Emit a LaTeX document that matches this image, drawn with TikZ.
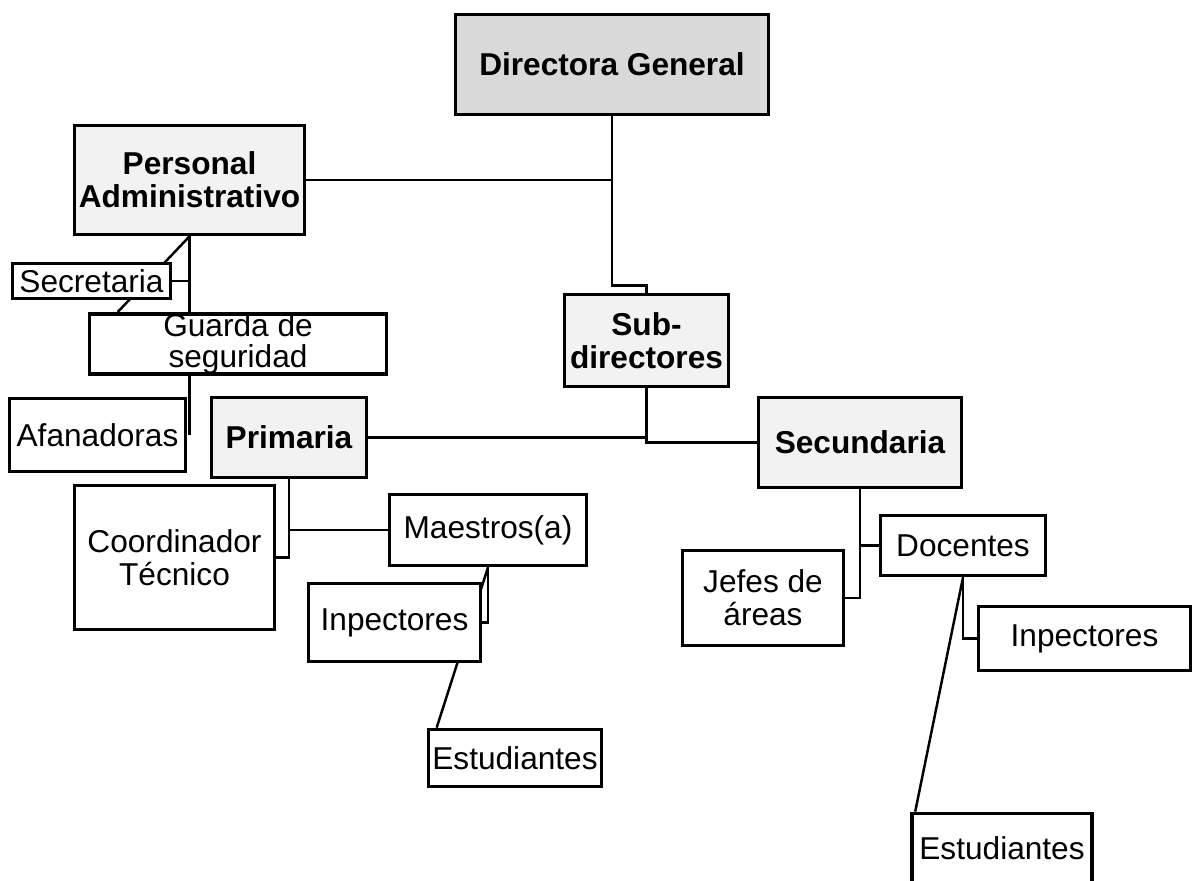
\documentclass[tikz,border=0pt]{standalone}
\usepackage{fontspec}
\setmainfont{Liberation Sans}
\usetikzlibrary{backgrounds,calc}
\colorlet{boxGray}{black!15}
\colorlet{boxLight}{black!5}
\tikzset{
  box/.style={draw, line width=2.1pt, fill=white, inner sep=0pt, align=center,
    font=\fontsize{18}{18.8}\selectfont},
  head/.style={box, fill=boxLight, font=\fontsize{18}{18.8}\selectfont\bfseries},
  conn/.style={line width=1.4pt}
}

\begin{document}
\begin{tikzpicture}[x=0.02cm, y=-0.02cm]
\useasboundingbox (0,0) rectangle (1199,880);
% top
\node[head, fill=boxGray, minimum width=6.26cm, minimum height=2cm] (dg) at (612,64.5) {Directora General};
\node[head, minimum width=4.6cm, minimum height=2.18cm] (pa) at (189.5,180) {Personal\\Administrativo};
\node[head, minimum width=3.28cm, minimum height=1.84cm] (sub) at (646.5,340.5) {Sub-\\directores};
% administrativo
\node[box, minimum width=3.16cm, minimum height=0.7cm] (secr) at (91.5,281) {Secretaria};
\node[box, minimum width=5.94cm, minimum height=1.18cm, font=\fontsize{18}{17.5}\selectfont] (guarda) at (238,344) {Guarda de\\seguridad};
\node[box, minimum width=3.52cm, minimum height=1.46cm] (afa) at (97.5,435) {Afanadoras};
% primaria
\node[head, minimum width=3.1cm, minimum height=1.6cm] (prim) at (289,437.5) {Primaria};
\node[box, minimum width=4cm, minimum height=2.88cm] (coord) at (174.5,557.5) {Coordinador\\Técnico};
\node[box, minimum width=3.94cm, minimum height=1.42cm] (maes) at (488,530) {Maestros(a)};
\node[box, minimum width=3.44cm, minimum height=1.56cm] (insp1) at (394.5,622.5) {Inpectores};
\node[box, minimum width=3.46cm, minimum height=1.14cm] (est1) at (515,758) {Estudiantes};
% secundaria
\node[head, minimum width=4.06cm, minimum height=1.8cm] (sec) at (860,442.5) {Secundaria};
\node[box, minimum width=3.3cm, minimum height=1.2cm] (doc) at (963,545.5) {Docentes};
\node[box, minimum width=3.22cm, minimum height=1.9cm] (jefes) at (763,598) {Jefes de\\áreas};
\node[box, minimum width=4.24cm, minimum height=1.28cm] (insp2) at (1084.5,638.5) {Inpectores};
\node[box, minimum width=3.6cm, minimum height=1.38cm] (est2) at (1002,848) {Estudiantes};

\begin{scope}[on background layer]
\draw[conn] (dg.south) -- ++(0,169) -| (sub.north);
\draw[conn] (pa.east) -- (pa.east -| dg.south);
\draw[conn] (prim.east) -- (prim.east -| sub.south);
\draw[conn] (sub.south) |- (sec.west);
% administrativo
\draw[conn] (pa.south) -- (pa.south |- guarda.north);
\draw[conn] (secr.east) -- (secr.east -| pa.south);
\draw[conn] (pa.south) -- ($(guarda.north west)+(30,0)$);
\draw[conn] (pa.south |- guarda.south) -- (pa.south |- afa.east);
% primaria
\draw[conn] (prim.south) |- (coord.east);
\draw[conn] (maes.west) -- (maes.west -| prim.south);
\draw[conn] (maes.south) |- (insp1.east);
\draw[conn] (maes.south) -- ($(est1.north west)+(10,0)$);
% secundaria
\draw[conn] (sec.south) |- (jefes.east);
\draw[conn] (doc.west) -- (doc.west -| sec.south);
\draw[conn] (doc.south) |- (insp2.west);
\draw[conn] (doc.south) -- ($(est2.north west)+(5,0)$);
\end{scope}
\end{tikzpicture}
\end{document}
